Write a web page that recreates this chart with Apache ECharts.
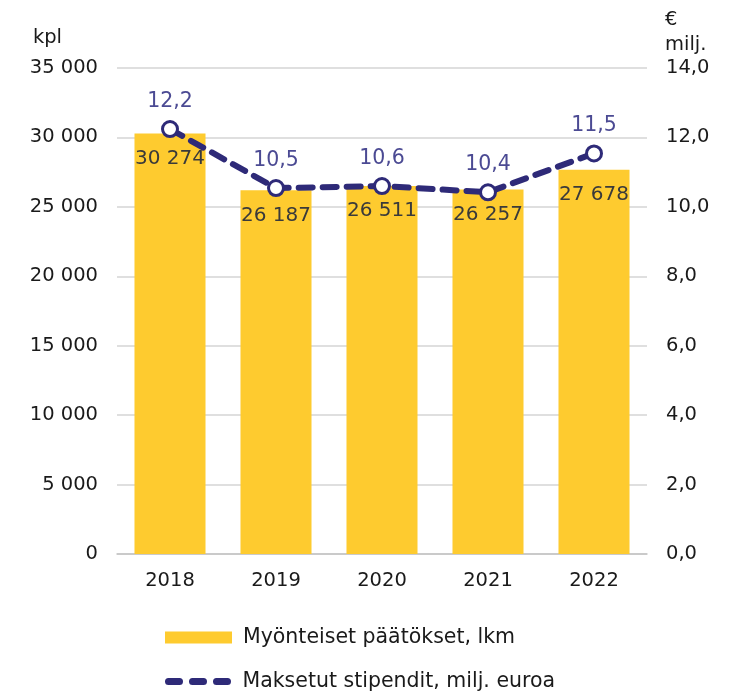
<!DOCTYPE html>
<html><head><meta charset="utf-8">
<script src="https://cdn.jsdelivr.net/npm/echarts@6/dist/echarts.min.js"></script>
<style>html,body{margin:0;padding:0;background:#fff}#c{width:739px;height:693px}</style>
</head><body><div id="c"></div>
<script>
const categories = ['2018','2019','2020','2021','2022'];
const decisions = [30274, 26187, 26511, 26257, 27678];
const grants = [12.24, 10.54, 10.6, 10.42, 11.54];
const leftTicks = {min: 0, max: 35000, interval: 5000};
const rightTicks = {min: 0, max: 14, interval: 2};
const seriesNames = ['Myönteiset päätökset, lkm', 'Maksetut stipendit, milj. euroa'];

const FONT = 'DejaVu Sans';
const AX = 19.5;
const fmtThousands = v => String(v).replace(/\B(?=(\d{3})+(?!\d))/g, ' ');
const fmtDec = (v, d) => v.toFixed(d).replace('.', ',');
const legendText = {fontFamily: FONT, fontSize: 20.5, color: '#1a1a1a', padding: [0,0,0,6]};

const chart = echarts.init(document.getElementById('c'));
chart.setOption({
  animation: false,
  textStyle: {fontFamily: FONT},
  grid: {left: 117, right: 92, top: 68, bottom: 139},
  legend: [
    {
      left: 165, top: 627, padding: 0,
      itemWidth: 67, itemHeight: 12,
      textStyle: legendText,
      data: [{name: seriesNames[0], icon: 'rect'}]
    },
    {
      left: 165, top: 671, padding: 0,
      itemWidth: 67, itemHeight: 7,
      textStyle: legendText,
      data: [{name: seriesNames[1],
        icon: 'path://M3.5,0 H14.5 A3.5,3.5 0 0 1 14.5,7 H3.5 A3.5,3.5 0 0 1 3.5,0 Z M27.5,0 H38.5 A3.5,3.5 0 0 1 38.5,7 H27.5 A3.5,3.5 0 0 1 27.5,0 Z M51.5,0 H62.5 A3.5,3.5 0 0 1 62.5,7 H51.5 A3.5,3.5 0 0 1 51.5,0 Z',
        itemStyle: {color: '#2E2A78', borderWidth: 0}}]
    }
  ],
  xAxis: {
    type: 'category', data: categories,
    axisLine: {lineStyle: {color: '#c4c4c4', width: 1.5}},
    axisTick: {show: false},
    axisLabel: {fontFamily: FONT, fontSize: AX, color: '#1a1a1a', margin: 17}
  },
  yAxis: [
    {
      type: 'value', min: leftTicks.min, max: leftTicks.max, interval: leftTicks.interval,
      name: 'kpl', nameLocation: 'end', nameGap: 20,
      nameTextStyle: {fontFamily: FONT, fontSize: AX, color: '#1a1a1a', align: 'right', padding: [0, 55, 0, 0]},
      axisLine: {show: false}, axisTick: {show: false},
      axisLabel: {fontFamily: FONT, fontSize: AX, color: '#1a1a1a', margin: 19, formatter: v => fmtThousands(v)},
      splitLine: {lineStyle: {color: '#d4d4d4', width: 1.5}}
    },
    {
      type: 'value', min: rightTicks.min, max: rightTicks.max, interval: rightTicks.interval,
      name: '€\nmilj.', nameLocation: 'end', nameGap: 11,
      nameTextStyle: {fontFamily: FONT, fontSize: AX, color: '#1a1a1a', align: 'left', lineHeight: 25, padding: [0, 0, 0, 18]},
      axisLine: {show: false}, axisTick: {show: false},
      axisLabel: {fontFamily: FONT, fontSize: AX, color: '#1a1a1a', margin: 19, formatter: v => fmtDec(v, 1)},
      splitLine: {show: false}
    }
  ],
  series: [
    {
      name: seriesNames[0], type: 'bar', data: decisions, yAxisIndex: 0,
      barWidth: '67%',
      itemStyle: {color: '#FECB2F'},
      label: {show: true, position: 'insideTop', distance: 15, fontFamily: FONT, fontSize: 20, color: '#3a3a3a',
        formatter: p => fmtThousands(p.value)}
    },
    {
      name: seriesNames[1], type: 'line', data: grants, yAxisIndex: 1,
      symbol: 'circle', symbolSize: 15,
      lineStyle: {color: '#2E2A78', width: 6, type: [14, 10], cap: 'round'},
      itemStyle: {color: '#ffffff', borderColor: '#2E2A78', borderWidth: 3},
      label: {show: true, position: 'top', distance: 8, fontFamily: FONT, fontSize: 20.5, color: '#4B4A93',
        formatter: p => fmtDec(p.value, 1)},
      z: 5
    }
  ]
});
</script></body></html>
